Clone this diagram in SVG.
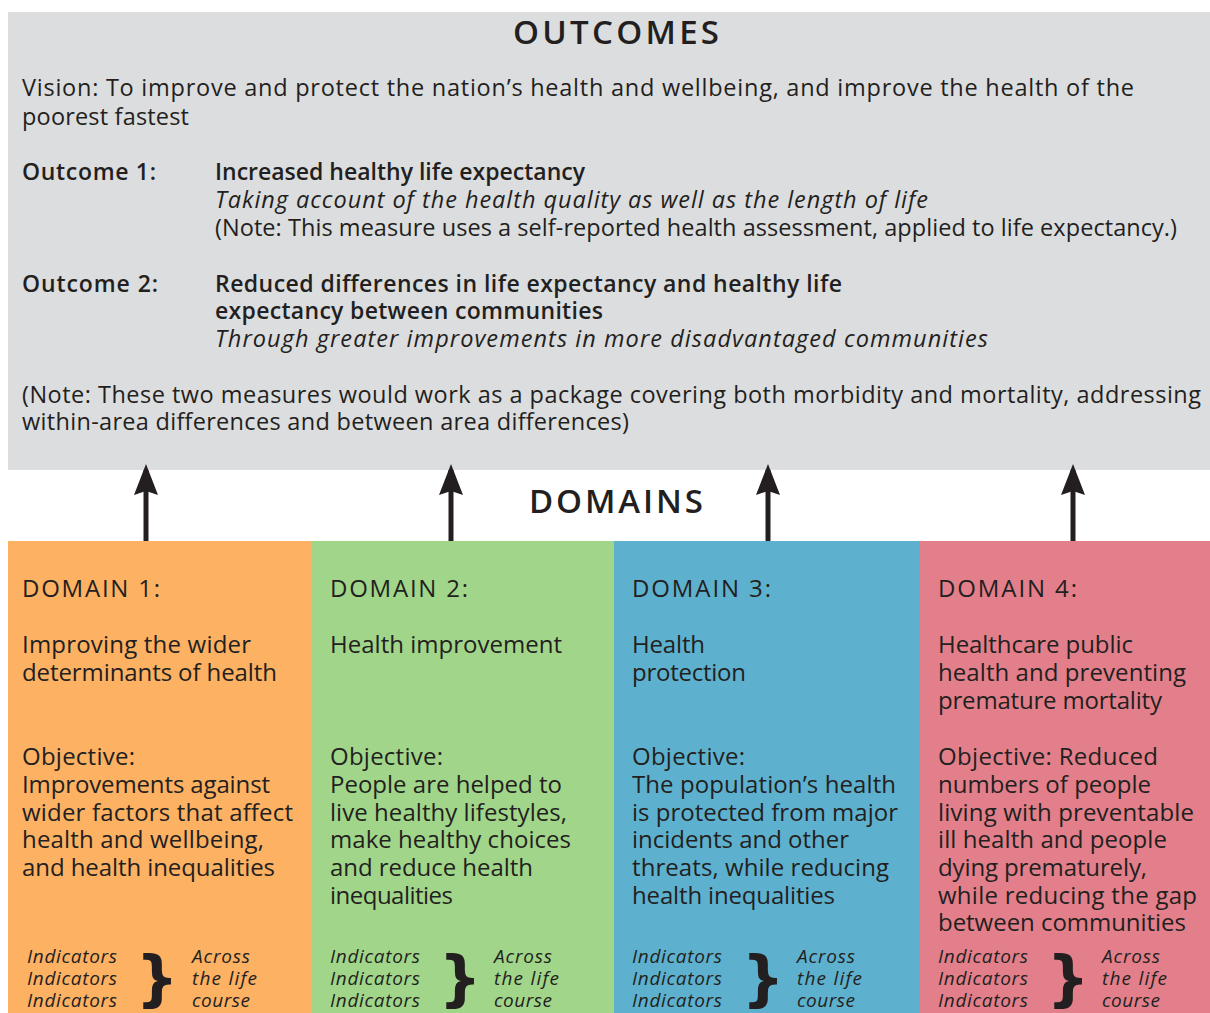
<svg xmlns="http://www.w3.org/2000/svg" width="1210" height="1013" viewBox="0 0 1210 1013">
  <defs>
    <style>
      .t { font-family: "Open Sans", "DejaVu Sans", sans-serif; font-size: 23.5px; fill: #231f20; }
      .b { font-weight: 600; font-size: 23px; }
      .i { font-style: italic; }
      .head { font-family: "Open Sans", "DejaVu Sans", sans-serif; font-size: 33px; font-weight: 600; fill: #231f20; }
      .d { font-family: "Open Sans", "DejaVu Sans", sans-serif; font-size: 24px; fill: #231f20; }
      .ind { font-family: "Open Sans", "DejaVu Sans", sans-serif; font-size: 19px; font-style: italic; fill: #231f20; }
      .brace { font-family: "DejaVu Sans", sans-serif; font-size: 60px; font-weight: bold; fill: #231f20; }
      .arrow { stroke: #231f20; stroke-width: 5; fill: none; }
    </style>
    <marker id="head" markerUnits="userSpaceOnUse" viewBox="0 -13 32 26" markerWidth="32" markerHeight="26" refX="25" refY="0" orient="auto">
      <path d="M0,-12 L31,0 L0,12 L4,0 Z" fill="#231f20"/>
    </marker>
  </defs>

  <rect width="1210" height="1013" fill="#ffffff"/>

  <!-- Outcomes panel -->
  <g id="outcomes">
    <rect x="8" y="12" width="1202" height="458" fill="#dcdddf"/>
    <text class="head" x="513" y="44" textLength="206">OUTCOMES</text>
    <text class="t" x="22" y="96" textLength="1112">Vision: To improve and protect the nation’s health and wellbeing, and improve the health of the</text>
    <text class="t" x="22" y="125" textLength="167">poorest fastest</text>
    <text class="t b" x="22" y="180" textLength="134">Outcome 1:</text>
    <text class="t b" x="215" y="180" textLength="370">Increased healthy life expectancy</text>
    <text class="t i" x="215" y="208" textLength="713">Taking account of the health quality as well as the length of life</text>
    <text class="t" x="215" y="236" textLength="962">(Note: This measure uses a self-reported health assessment, applied to life expectancy.)</text>
    <text class="t b" x="22" y="292" textLength="136">Outcome 2:</text>
    <text class="t b" x="215" y="292" textLength="627">Reduced differences in life expectancy and healthy life</text>
    <text class="t b" x="215" y="319" textLength="388">expectancy between communities</text>
    <text class="t i" x="215" y="347" textLength="773">Through greater improvements in more disadvantaged communities</text>
    <text class="t" x="22" y="403" textLength="1179">(Note: These two measures would work as a package covering both morbidity and mortality, addressing</text>
    <text class="t" x="22" y="430" textLength="607">within-area differences and between area differences)</text>
  </g>

  <g id="domains-title">
    <text class="head" x="529" y="513" font-size="31" textLength="174">DOMAINS</text>
  </g>

  <!-- Domain columns -->
  <g id="domain1">
    <rect x="8" y="541" width="304" height="472" fill="#fdb163"/>
    <text class="d" x="22" y="597" textLength="138">DOMAIN 1:</text>
    <text class="d" x="22" y="653" textLength="229">Improving the wider</text>
    <text class="d" x="22" y="681" textLength="255">determinants of health</text>
    <text class="d" x="22" y="765" textLength="113">Objective:</text>
    <text class="d" x="22" y="793" textLength="248">Improvements against</text>
    <text class="d" x="22" y="821" textLength="271">wider factors that affect</text>
    <text class="d" x="22" y="848" textLength="242">health and wellbeing,</text>
    <text class="d" x="22" y="876" textLength="253">and health inequalities</text>
    <text class="ind" x="27" y="963" textLength="90">Indicators</text>
    <text class="ind" x="27" y="985" textLength="90">Indicators</text>
    <text class="ind" x="27" y="1007" textLength="90">Indicators</text>
    <text class="brace" x="157" y="999" text-anchor="middle">}</text>
    <text class="ind" x="192" y="963" textLength="58">Across</text>
    <text class="ind" x="192" y="985" textLength="65">the life</text>
    <text class="ind" x="192" y="1007" textLength="58">course</text>
  </g>

  <g id="domain2">
    <rect x="312" y="541" width="302" height="472" fill="#a1d68a"/>
    <text class="d" x="330" y="597" textLength="138">DOMAIN 2:</text>
    <text class="d" x="330" y="653" textLength="232">Health improvement</text>
    <text class="d" x="330" y="765" textLength="113">Objective:</text>
    <text class="d" x="330" y="793" textLength="232">People are helped to</text>
    <text class="d" x="330" y="821" textLength="237">live healthy lifestyles,</text>
    <text class="d" x="330" y="848" textLength="241">make healthy choices</text>
    <text class="d" x="330" y="876" textLength="203">and reduce health</text>
    <text class="d" x="330" y="904" textLength="123">inequalities</text>
    <text class="ind" x="330" y="963" textLength="90">Indicators</text>
    <text class="ind" x="330" y="985" textLength="90">Indicators</text>
    <text class="ind" x="330" y="1007" textLength="90">Indicators</text>
    <text class="brace" x="460" y="999" text-anchor="middle">}</text>
    <text class="ind" x="494" y="963" textLength="58">Across</text>
    <text class="ind" x="494" y="985" textLength="65">the life</text>
    <text class="ind" x="494" y="1007" textLength="58">course</text>
  </g>

  <g id="domain3">
    <rect x="614" y="541" width="306" height="472" fill="#5db1cf"/>
    <text class="d" x="632" y="597" textLength="139">DOMAIN 3:</text>
    <text class="d" x="632" y="653" textLength="73">Health</text>
    <text class="d" x="632" y="681" textLength="114">protection</text>
    <text class="d" x="632" y="765" textLength="113">Objective:</text>
    <text class="d" x="632" y="793" textLength="264">The population’s health</text>
    <text class="d" x="632" y="821" textLength="266">is protected from major</text>
    <text class="d" x="632" y="848" textLength="217">incidents and other</text>
    <text class="d" x="632" y="876" textLength="257">threats, while reducing</text>
    <text class="d" x="632" y="904" textLength="203">health inequalities</text>
    <text class="ind" x="632" y="963" textLength="90">Indicators</text>
    <text class="ind" x="632" y="985" textLength="90">Indicators</text>
    <text class="ind" x="632" y="1007" textLength="90">Indicators</text>
    <text class="brace" x="763" y="999" text-anchor="middle">}</text>
    <text class="ind" x="797" y="963" textLength="58">Across</text>
    <text class="ind" x="797" y="985" textLength="65">the life</text>
    <text class="ind" x="797" y="1007" textLength="58">course</text>
  </g>

  <g id="domain4">
    <rect x="920" y="541" width="290" height="472" fill="#e27f8b"/>
    <text class="d" x="938" y="597" textLength="139">DOMAIN 4:</text>
    <text class="d" x="938" y="653" textLength="195">Healthcare public</text>
    <text class="d" x="938" y="681" textLength="248">health and preventing</text>
    <text class="d" x="938" y="709" textLength="224">premature mortality</text>
    <text class="d" x="938" y="765" textLength="220">Objective: Reduced</text>
    <text class="d" x="938" y="793" textLength="213">numbers of people</text>
    <text class="d" x="938" y="821" textLength="256">living with preventable</text>
    <text class="d" x="938" y="848" textLength="229">ill health and people</text>
    <text class="d" x="938" y="876" textLength="209">dying prematurely,</text>
    <text class="d" x="938" y="904" textLength="259">while reducing the gap</text>
    <text class="d" x="938" y="931" textLength="248">between communities</text>
    <text class="ind" x="938" y="963" textLength="90">Indicators</text>
    <text class="ind" x="938" y="985" textLength="90">Indicators</text>
    <text class="ind" x="938" y="1007" textLength="90">Indicators</text>
    <text class="brace" x="1068" y="999" text-anchor="middle">}</text>
    <text class="ind" x="1102" y="963" textLength="58">Across</text>
    <text class="ind" x="1102" y="985" textLength="65">the life</text>
    <text class="ind" x="1102" y="1007" textLength="58">course</text>
  </g>

  <!-- Arrows from each domain up to the outcomes -->
  <g id="connectors">
    <line class="arrow" x1="146" y1="541" x2="146" y2="470" marker-end="url(#head)"/>
    <line class="arrow" x1="451" y1="541" x2="451" y2="470" marker-end="url(#head)"/>
    <line class="arrow" x1="768" y1="541" x2="768" y2="470" marker-end="url(#head)"/>
    <line class="arrow" x1="1073" y1="541" x2="1073" y2="470" marker-end="url(#head)"/>
  </g>
</svg>
